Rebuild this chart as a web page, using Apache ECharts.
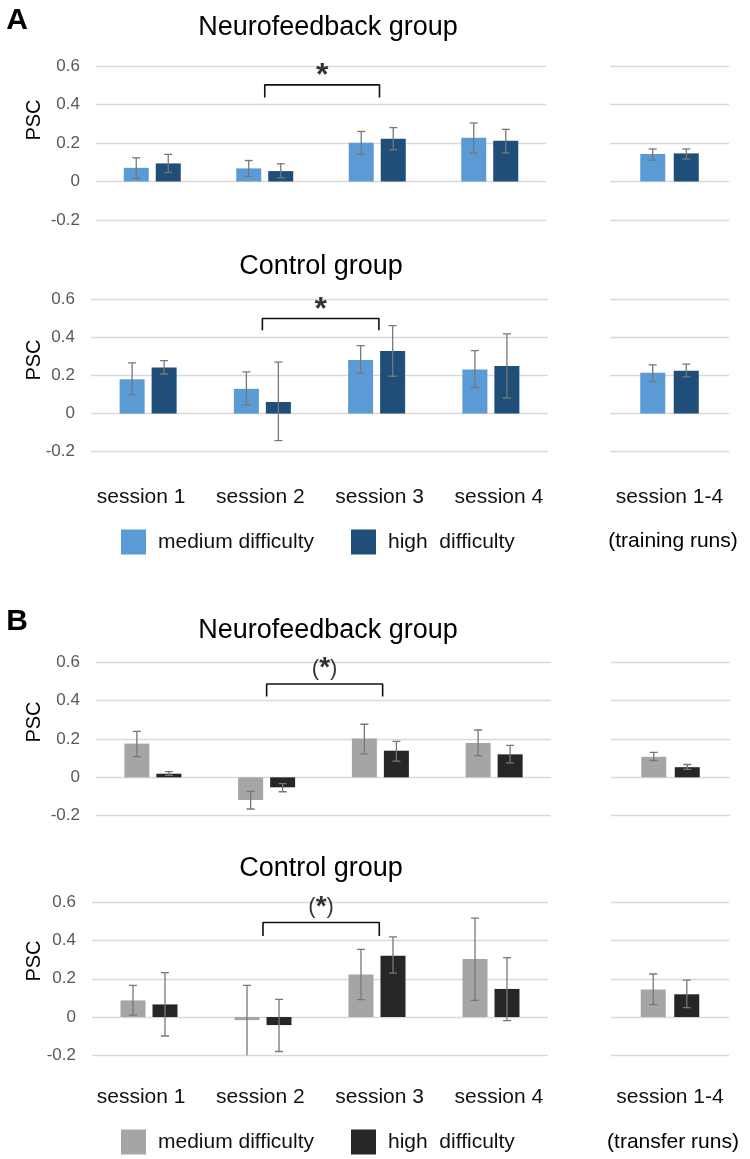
<!DOCTYPE html>
<html>
<head>
<meta charset="utf-8">
<script src="https://cdn.jsdelivr.net/npm/echarts@6/dist/echarts.min.js"></script>
<style>
html,body{margin:0;padding:0;background:#fff;}
#chart{width:750px;height:1159px;}
</style>
</head>
<body>
<div id="chart"></div>
<script>
// ---------------- DATA ----------------
const sessions = ['session 1', 'session 2', 'session 3', 'session 4'];
const pooled = ['session 1-4'];
const yMin = -0.2, yMax = 0.6, yStep = 0.2;

// index 0-3: sessions 1-4, index 4: pooled sessions 1-4
// A: training runs, Neurofeedback group
const trainNFMed     = [0.071, 0.068, 0.201, 0.227, 0.143];
const trainNFMedLo   = [0.016, 0.026, 0.142, 0.148, 0.111];
const trainNFMedHi   = [0.123, 0.109, 0.260, 0.304, 0.169];
const trainNFHigh    = [0.094, 0.054, 0.222, 0.212, 0.146];
const trainNFHighLo  = [0.047, 0.019, 0.165, 0.148, 0.117];
const trainNFHighHi  = [0.141, 0.092, 0.280, 0.271, 0.169];
// A: training runs, Control group
const trainCtrlMed    = [0.180, 0.130, 0.282, 0.231, 0.214];
const trainCtrlMedLo  = [0.100, 0.044, 0.212, 0.137, 0.168];
const trainCtrlMedHi  = [0.266, 0.219, 0.357, 0.331, 0.256];
const trainCtrlHigh   = [0.242, 0.061, 0.329, 0.250, 0.225];
const trainCtrlHighLo = [0.208, -0.142, 0.196, 0.082, 0.193];
const trainCtrlHighHi = [0.278, 0.270, 0.462, 0.419, 0.260];
// B: transfer runs, Neurofeedback group
const transNFMed     = [0.176, -0.118, 0.202, 0.179, 0.107];
const transNFMedLo   = [0.108, -0.165, 0.122, 0.113, 0.088];
const transNFMedHi   = [0.240, -0.073, 0.277, 0.247, 0.130];
const transNFHigh    = [0.019, -0.052, 0.139, 0.120, 0.053];
const transNFHighLo  = [0.010, -0.075, 0.085, 0.075, 0.042];
const transNFHighHi  = [0.030, -0.033, 0.188, 0.167, 0.067];
// B: transfer runs, Control group
const transCtrlMed    = [0.087, -0.016, 0.222, 0.304, 0.144];
const transCtrlMedLo  = [0.010, -0.230, 0.091, 0.087, 0.065];
const transCtrlMedHi  = [0.166, 0.166, 0.354, 0.517, 0.225];
const transCtrlHigh   = [0.066, -0.042, 0.321, 0.147, 0.119];
const transCtrlHighLo = [-0.099, -0.180, 0.230, -0.019, 0.049];
const transCtrlHighHi = [0.232, 0.092, 0.419, 0.311, 0.193];

// significance brackets (x in session units: session 2 centre = 1.5, session 3 centre = 2.5)
const bracketX = [1.5, 1.5, 2.52, 2.52];
const trainNFBracket   = [0.437, 0.502, 0.502, 0.437];
const trainCtrlBracket = [0.438, 0.499, 0.499, 0.438];
const transNFBracket   = [0.421, 0.487, 0.487, 0.421];
const transCtrlBracket = [0.424, 0.494, 0.494, 0.424];
const starX = 2.01;
const trainNFStarY = 0.589, trainCtrlStarY = 0.587, transNFStarY = 0.577, transCtrlStarY = 0.585;

const medName = 'medium difficulty', highName = 'high  difficulty';
const medNameB = 'medium difficulty ', highNameB = 'high  difficulty ';

// ---------------- STYLE ----------------
const FONT = "'Liberation Sans', Arial, Helvetica, sans-serif";
const blueMed = '#5B9BD5', blueHigh = '#1F4E79';
const grayMed = '#A5A5A5', grayHigh = '#262626';
const gridColor = '#D9D9D9', errColor = '#777777';

const panels = [
  {main:{left:96, top:66, width:450, height:154}, pool:{left:610, top:66, width:119, height:154},
   med:trainNFMed, medLo:trainNFMedLo, medHi:trainNFMedHi, high:trainNFHigh, highLo:trainNFHighLo, highHi:trainNFHighHi,
   cMed:blueMed, cHigh:blueHigh, nMed:medName, nHigh:highName, br:trainNFBracket, starY:trainNFStarY, star:'*'},
  {main:{left:91, top:299.3, width:457, height:152.4}, pool:{left:610, top:299.3, width:119, height:152.4},
   med:trainCtrlMed, medLo:trainCtrlMedLo, medHi:trainCtrlMedHi, high:trainCtrlHigh, highLo:trainCtrlHighLo, highHi:trainCtrlHighHi,
   cMed:blueMed, cHigh:blueHigh, nMed:medName, nHigh:highName, br:trainCtrlBracket, starY:trainCtrlStarY, star:'*', labels:true, labelGap:35},
  {main:{left:96, top:662.3, width:455, height:153.4}, pool:{left:611, top:662.3, width:119, height:153.4},
   med:transNFMed, medLo:transNFMedLo, medHi:transNFMedHi, high:transNFHigh, highLo:transNFHighLo, highHi:transNFHighHi,
   cMed:grayMed, cHigh:grayHigh, nMed:medNameB, nHigh:highNameB, br:transNFBracket, starY:transNFStarY, star:'(*)'},
  {main:{left:92, top:902.3, width:456, height:153}, pool:{left:611, top:902.3, width:118, height:153},
   med:transCtrlMed, medLo:transCtrlMedLo, medHi:transCtrlMedHi, high:transCtrlHigh, highLo:transCtrlHighLo, highHi:transCtrlHighHi,
   cMed:grayMed, cHigh:grayHigh, nMed:medNameB, nHigh:highNameB, br:transCtrlBracket, starY:transCtrlStarY, star:'(*)', labels:true, labelGap:31}
];

function errRender(offset) {
  return function (params, api) {
    const i = api.value(0);
    const lo = api.coord([i, api.value(1)]);
    const hi = api.coord([i, api.value(2)]);
    const x = lo[0] + offset, c = 4;
    const st = {stroke: errColor, lineWidth: 1.3};
    return {type: 'group', children: [
      {type: 'line', shape: {x1: x, y1: lo[1], x2: x, y2: hi[1]}, style: st},
      {type: 'line', shape: {x1: x - c, y1: hi[1], x2: x + c, y2: hi[1]}, style: st},
      {type: 'line', shape: {x1: x - c, y1: lo[1], x2: x + c, y2: lo[1]}, style: st}
    ]};
  };
}

const grid = [], xAxis = [], yAxis = [], series = [];

function addY(gi, showLabels) {
  yAxis.push({
    type: 'value', gridIndex: gi, min: yMin, max: yMax, interval: yStep,
    axisLine: {show: false}, axisTick: {show: false},
    axisLabel: {show: showLabels, color: '#595959', fontFamily: FONT, fontSize: 17, margin: 16},
    splitLine: {show: true, lineStyle: {color: gridColor, width: 1.3}}
  });
  return yAxis.length - 1;
}

panels.forEach(function (p) {
  // main grid
  grid.push(p.main);
  const gMain = grid.length - 1;
  xAxis.push({type: 'category', gridIndex: gMain, data: sessions,
    axisLine: {show: false}, axisTick: {show: false}, axisLabel: {show: false}});
  const xMain = xAxis.length - 1;
  const yMain = addY(gMain, true);
  xAxis.push({type: 'value', gridIndex: gMain, min: 0, max: sessions.length, show: false});
  const xVal = xAxis.length - 1;

  // pooled grid
  grid.push(p.pool);
  const gPool = grid.length - 1;
  xAxis.push({type: 'category', gridIndex: gPool, data: pooled,
    axisLine: {show: false}, axisTick: {show: false},
    axisLabel: {show: !!p.labels, color: '#111', fontFamily: FONT, fontSize: 21, margin: p.labelGap || 0}});
  const xPool = xAxis.length - 1;
  const yPool = addY(gPool, false);

  const medMain = p.med.slice(0, 4), highMain = p.high.slice(0, 4);
  const barCommon = {type: 'bar', barWidth: 25, z: 2};
  series.push(Object.assign({}, barCommon, {name: p.nMed, xAxisIndex: xMain, yAxisIndex: yMain, barGap: '28%',
    itemStyle: {color: p.cMed}, data: medMain}));
  series.push(Object.assign({}, barCommon, {name: p.nHigh, xAxisIndex: xMain, yAxisIndex: yMain, barGap: '28%',
    itemStyle: {color: p.cHigh}, data: highMain}));
  series.push(Object.assign({}, barCommon, {name: p.nMed, xAxisIndex: xPool, yAxisIndex: yPool, barGap: '34%',
    itemStyle: {color: p.cMed}, data: p.med.slice(4)}));
  series.push(Object.assign({}, barCommon, {name: p.nHigh, xAxisIndex: xPool, yAxisIndex: yPool, barGap: '34%',
    itemStyle: {color: p.cHigh}, data: p.high.slice(4)}));

  function errData(lo, hi, from, to) {
    const out = [];
    for (let i = from; i < to; i++) out.push([i - from, lo[i], hi[i]]);
    return out;
  }
  const errCommon = {type: 'custom', z: 3, clip: true, silent: true};
  series.push(Object.assign({}, errCommon, {xAxisIndex: xMain, yAxisIndex: yMain, renderItem: errRender(-16),
    encode: {x: 0, y: [1, 2]}, data: errData(p.medLo, p.medHi, 0, 4)}));
  series.push(Object.assign({}, errCommon, {xAxisIndex: xMain, yAxisIndex: yMain, renderItem: errRender(16),
    encode: {x: 0, y: [1, 2]}, data: errData(p.highLo, p.highHi, 0, 4)}));
  series.push(Object.assign({}, errCommon, {xAxisIndex: xPool, yAxisIndex: yPool, renderItem: errRender(-16.8),
    encode: {x: 0, y: [1, 2]}, data: errData(p.medLo, p.medHi, 4, 5)}));
  series.push(Object.assign({}, errCommon, {xAxisIndex: xPool, yAxisIndex: yPool, renderItem: errRender(16.8),
    encode: {x: 0, y: [1, 2]}, data: errData(p.highLo, p.highHi, 4, 5)}));

  // bracket
  series.push({type: 'line', xAxisIndex: xVal, yAxisIndex: yMain, symbol: 'none', silent: true, z: 4,
    lineStyle: {color: '#111', width: 1.6}, data: bracketX.map(function (x, k) { return [x, p.br[k]]; })});
  // star
  const isParen = p.star.length > 1;
  series.push({type: 'scatter', xAxisIndex: xVal, yAxisIndex: yMain, symbolSize: 1, silent: true, z: 5,
    itemStyle: {color: 'rgba(0,0,0,0)'},
    label: {show: true, position: 'inside', color: '#000', fontFamily: FONT,
      offset: isParen ? [0, 2] : [0, 8],
      formatter: isParen ? '{p|(}{s|*}{p|)}' : '{s|*}',
      rich: {p: {fontSize: 22, fontFamily: FONT, color: '#000'},
             s: {fontSize: isParen ? 28 : 32, fontWeight: 'bold', fontFamily: FONT, color: '#000'}}},
    data: [[starX, p.starY]]});

  // session labels on a separate axis (labels in the reference are spaced a bit wider than the bars)
  if (p.labels) {
    grid.push({left: 81.5, width: 477, top: p.main.top, height: p.main.height});
    const gL = grid.length - 1;
    xAxis.push({type: 'category', gridIndex: gL, data: sessions,
      axisLine: {show: false}, axisTick: {show: false},
      axisLabel: {color: '#111', fontFamily: FONT, fontSize: 21, margin: p.labelGap}});
    yAxis.push({type: 'value', gridIndex: gL, show: false, min: yMin, max: yMax, splitLine: {show: false}});
  }
});

function legendItem(name, left, top) {
  return {data: [name], left: left, top: top, padding: 0, icon: 'rect', itemWidth: 25, itemHeight: 25,
    selectedMode: false, formatter: function (n) { return n.replace(/\s+$/, ''); },
    textStyle: {color: '#111', fontFamily: FONT, fontSize: 21, padding: [0, 0, 0, 7]}};
}

function txt(text, x, y, size, weight) {
  return {type: 'text', x: x, y: y, silent: true,
    style: {text: text, fill: '#000', font: (weight || 'normal') + ' ' + size + 'px ' + FONT,
      textAlign: 'center', textVerticalAlign: 'middle'}};
}

const graphic = [
  txt('A', 17, 21, 30, 'bold'),
  txt('B', 17, 622, 30, 'bold'),
  txt('Neurofeedback group', 328, 28, 27),
  txt('Control group', 321, 267, 27),
  txt('Neurofeedback group', 328, 631, 27),
  txt('Control group', 321, 869, 27),
  txt('(training runs)', 673, 541, 21),
  txt('(transfer runs)', 673, 1142, 21),
  Object.assign(txt('PSC', 34.5, 120, 20), {rotation: Math.PI / 2}),
  Object.assign(txt('PSC', 34.5, 360, 20), {rotation: Math.PI / 2}),
  Object.assign(txt('PSC', 34.5, 722, 20), {rotation: Math.PI / 2}),
  Object.assign(txt('PSC', 34.5, 961, 20), {rotation: Math.PI / 2})
];

const chart = echarts.init(document.getElementById('chart'), null, {renderer: 'canvas'});
chart.setOption({
  animation: false,
  backgroundColor: '#fff',
  textStyle: {fontFamily: FONT},
  grid: grid,
  xAxis: xAxis,
  yAxis: yAxis,
  legend: [
    legendItem(medName, 121, 529.5),
    legendItem(highName, 351, 529.5),
    legendItem(medNameB, 121, 1129.5),
    legendItem(highNameB, 351, 1129.5)
  ],
  graphic: graphic,
  series: series
});
</script>
</body>
</html>
